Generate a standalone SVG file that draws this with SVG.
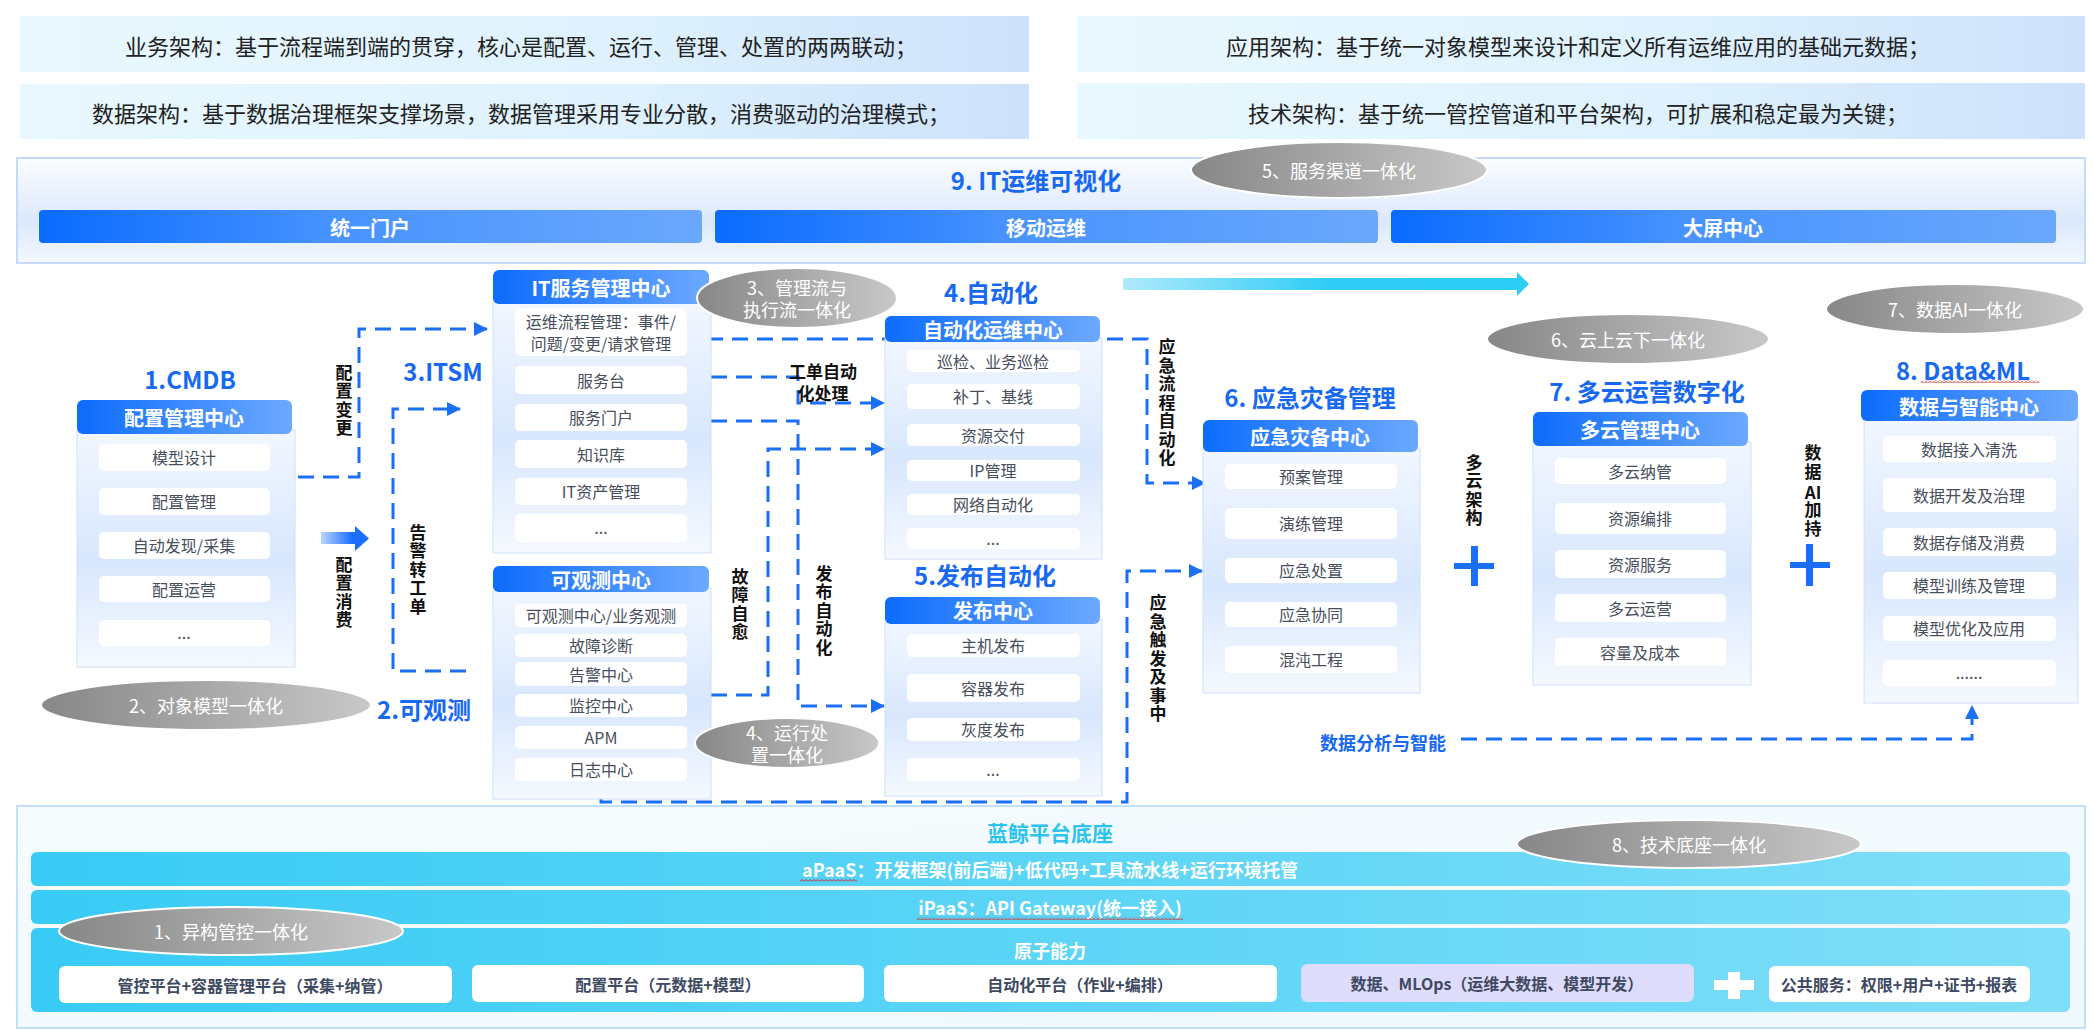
<svg xmlns="http://www.w3.org/2000/svg" width="2094" height="1030" viewBox="0 0 2094 1030">
<defs>
<linearGradient id="gBanner" x1="0" y1="0" x2="1" y2="0"><stop offset="0" stop-color="#e9f8fe"/><stop offset="0.6" stop-color="#def1fd"/><stop offset="1" stop-color="#cde1fb"/></linearGradient>
<linearGradient id="gPanel" x1="0" y1="0" x2="0" y2="1"><stop offset="0" stop-color="#fbfdff"/><stop offset="0.6" stop-color="#dbe8fc"/><stop offset="1" stop-color="#f3f8ff"/></linearGradient>
<linearGradient id="gBar" x1="0" y1="0" x2="1" y2="0"><stop offset="0" stop-color="#0a6bff"/><stop offset="0.45" stop-color="#4893ff"/><stop offset="1" stop-color="#6aa8fc"/></linearGradient>
<linearGradient id="gHdr" x1="0" y1="0" x2="1" y2="0"><stop offset="0" stop-color="#0d6cfd"/><stop offset="1" stop-color="#6ca9ff"/></linearGradient>
<linearGradient id="gBody" x1="0" y1="0" x2="0" y2="1"><stop offset="0" stop-color="#f2f7ff"/><stop offset="0.55" stop-color="#d8e7fd"/><stop offset="1" stop-color="#f5f9ff"/></linearGradient>
<linearGradient id="gEll" x1="0" y1="0" x2="1" y2="0"><stop offset="0" stop-color="#878787"/><stop offset="1" stop-color="#c8c8c8"/></linearGradient>
<linearGradient id="gArrB" x1="0" y1="0" x2="1" y2="0"><stop offset="0" stop-color="#b9d5ff"/><stop offset="0.65" stop-color="#1a6fff"/></linearGradient>
<linearGradient id="gArrC" x1="0" y1="0" x2="1" y2="0"><stop offset="0" stop-color="#aeeafb"/><stop offset="0.5" stop-color="#2fcdf6"/><stop offset="1" stop-color="#2dcdf5"/></linearGradient>
<linearGradient id="gPaaS" x1="0" y1="0" x2="1" y2="0"><stop offset="0" stop-color="#38cbf5"/><stop offset="1" stop-color="#80def8"/></linearGradient>
<linearGradient id="gPlat" x1="0" y1="0" x2="1" y2="1"><stop offset="0" stop-color="#f5fcfe"/><stop offset="1" stop-color="#eef8fd"/></linearGradient>
<pattern id="sq" width="4" height="3" patternUnits="userSpaceOnUse"><path d="M0,2.5 L2,0.5 L4,2.5" stroke="#e21b1b" fill="none" stroke-width="1"/></pattern>
<marker id="ah" viewBox="0 0 14 14" refX="13" refY="7" markerWidth="14" markerHeight="14" markerUnits="userSpaceOnUse" orient="auto"><path d="M0,0 L14,7 L0,14 Z" fill="#1a6ff5"/></marker>
</defs>
<style>
text{font-family:"Noto Sans CJK SC","Liberation Sans",sans-serif}
.bt{font-size:22px;fill:#222;text-anchor:middle;dominant-baseline:central}
.bart{font-size:20px;font-weight:bold;fill:#fff;text-anchor:middle;dominant-baseline:central}
.hdr{fill:url(#gHdr)}
.body{fill:url(#gBody);stroke:#cddff8;stroke-width:1}
.item{fill:#fff}
.it{font-size:16px;fill:#474e5c;text-anchor:middle;dominant-baseline:central}
.ht{font-size:20px;font-weight:bold;fill:#fff;text-anchor:middle;dominant-baseline:central}
.ttl{font-size:24px;font-weight:bold;fill:#1769f2;text-anchor:middle;dominant-baseline:central}
.lbl{font-size:17px;font-weight:bold;fill:#111;text-anchor:middle;dominant-baseline:central}
.vl{font-size:17px;font-weight:bold;fill:#111;text-anchor:middle;dominant-baseline:central;writing-mode:vertical-rl;letter-spacing:1.5px}
.ell{fill:url(#gEll);stroke:#fff;stroke-width:2}
.et{font-size:18px;fill:#fff;text-anchor:middle;dominant-baseline:central}
.conn{stroke:#1a6ff5;stroke-width:3;stroke-dasharray:16 9;fill:none}
.pt{font-size:18px;font-weight:bold;fill:#fff;text-anchor:middle;dominant-baseline:central}
.at{font-size:16px;font-weight:bold;fill:#3e4a62;text-anchor:middle;dominant-baseline:central}
.plusb{fill:#1a6ff5}
</style>
<rect width="2094" height="1030" fill="#fff"/>

<g id="banners">
<rect x="20" y="16" width="1009" height="56" fill="url(#gBanner)"/>
<text class="bt" x="521" y="45">业务架构：基于流程端到端的贯穿，核心是配置、运行、管理、处置的两两联动；</text>
<rect x="20" y="84" width="1009" height="55" fill="url(#gBanner)"/>
<text class="bt" x="521" y="112">数据架构：基于数据治理框架支撑场景，数据管理采用专业分散，消费驱动的治理模式；</text>
<rect x="1077" y="16" width="1008" height="56" fill="url(#gBanner)"/>
<text class="bt" x="1578" y="45">应用架构：基于统一对象模型来设计和定义所有运维应用的基础元数据；</text>
<rect x="1077" y="83" width="1008" height="56" fill="url(#gBanner)"/>
<text class="bt" x="1578" y="112">技术架构：基于统一管控管道和平台架构，可扩展和稳定最为关键；</text>
</g>

<g id="visual-panel">
<rect x="17" y="158" width="2068" height="105" fill="url(#gPanel)" stroke="#c4daf7" stroke-width="2"/>
<text class="ttl" x="1036" y="179">9. IT运维可视化</text>
<rect x="39" y="210" width="663" height="33" rx="4" fill="url(#gBar)"/>
<text class="bart" x="370" y="227">统一门户</text>
<rect x="715" y="210" width="663" height="33" rx="4" fill="url(#gBar)"/>
<text class="bart" x="1046" y="227">移动运维</text>
<rect x="1391" y="210" width="665" height="33" rx="4" fill="url(#gBar)"/>
<text class="bart" x="1723" y="227">大屏中心</text>
</g>

<g id="platform">
<rect x="17" y="806" width="2068" height="222" fill="url(#gPlat)" stroke="#c2e1f7" stroke-width="2"/>
<text x="1050" y="832" font-size="21" font-weight="bold" fill="#2cc3f0" text-anchor="middle" dominant-baseline="central">蓝鲸平台底座</text>
<rect x="31" y="852" width="2039" height="34" rx="6" fill="url(#gPaaS)"/>
<text class="pt" x="1050" y="869">aPaaS：开发框架(前后端)+低代码+工具流水线+运行环境托管</text>
<rect x="800" y="879" width="57" height="3" fill="url(#sq)"/>
<rect x="31" y="890" width="2039" height="34" rx="6" fill="url(#gPaaS)"/>
<text class="pt" x="1050" y="907">iPaaS：API Gateway(统一接入)</text>
<rect x="917" y="917" width="266" height="3" fill="url(#sq)"/>
<rect x="31" y="928" width="2039" height="84" rx="6" fill="url(#gPaaS)"/>
<text class="pt" x="1050" y="950" font-size="20">原子能力</text>
<rect x="59" y="966" width="393" height="37" rx="6" fill="#fff"/>
<text class="at" x="255" y="985">管控平台+容器管理平台（采集+纳管）</text>
<rect x="472" y="965" width="392" height="37" rx="6" fill="#fff"/>
<text class="at" x="668" y="984">配置平台（元数据+模型）</text>
<rect x="884" y="965" width="393" height="37" rx="6" fill="#fff"/>
<text class="at" x="1080" y="984">自动化平台（作业+编排）</text>
<rect x="1301" y="964" width="393" height="38" rx="6" fill="#dedcfb"/>
<text class="at" x="1497" y="983">数据、MLOps（运维大数据、模型开发）</text>
<rect x="1714" y="980" width="40" height="10" fill="#fff"/>
<rect x="1728" y="972" width="12" height="27" fill="#fff"/>
<rect x="1769" y="966" width="261" height="36" rx="6" fill="#fff"/>
<text class="at" x="1899" y="984">公共服务：权限+用户+证书+报表</text>
</g>

<g id="connectors">
<path class="conn" d="M298,477 H359 V329 H487" marker-end="url(#ah)"/>
<path class="conn" d="M466,671 H393 V409 H460" marker-end="url(#ah)"/>
<path class="conn" d="M707,339 H1147 V483 H1205" marker-end="url(#ah)"/>
<path class="conn" d="M711,377 H798 V403 H884" marker-end="url(#ah)"/>
<path class="conn" d="M711,421 H798 V706 H884" marker-end="url(#ah)"/>
<path class="conn" d="M711,695 H768 V449 H884" marker-end="url(#ah)"/>
<path class="conn" d="M601,797 V802 H1127 V571 H1202" marker-end="url(#ah)"/>
<path class="conn" d="M1461,739 H1972 V706" marker-end="url(#ah)"/>
<path d="M321,532 H355 V526 L369,538.5 L355,551 V544 H321 Z" fill="url(#gArrB)"/>
<path d="M1123,278 H1517 V272 L1529,284 L1517,296 V290 H1123 Z" fill="url(#gArrC)"/>
</g>

<g id="conn-labels">
<text class="vl" x="344" y="401">配置变更</text>
<text class="vl" x="344" y="593">配置消费</text>
<text class="vl" x="418" y="570">告警转工单</text>
<text class="lbl" font-size="16" x="823" y="370">工单自动</text>
<text class="lbl" font-size="16" x="823" y="392">化处理</text>
<text class="vl" x="740" y="605">故障自愈</text>
<text class="vl" x="824" y="611">发布自动化</text>
<text class="vl" x="1167" y="403">应急流程自动化</text>
<text class="vl" x="1158" y="659">应急触发及事中</text>
<text class="vl" x="1474" y="491">多云架构</text>
<text class="vl" x="1813" y="463">数据</text>
<text class="lbl" x="1813" y="491">AI</text>
<text class="vl" x="1813" y="520">加持</text>
<text x="1383" y="742" font-size="18" font-weight="bold" fill="#1769f2" text-anchor="middle" dominant-baseline="central">数据分析与智能</text>
<rect class="plusb" x="1454" y="563" width="40" height="6"/><rect class="plusb" x="1471" y="546" width="7" height="40"/>
<rect class="plusb" x="1790" y="562" width="40" height="6"/><rect class="plusb" x="1806" y="544" width="7" height="42"/>
</g>

<g id="cmdb">
<text class="ttl" x="190" y="378">1.CMDB</text>
<rect class="body" x="77" y="430" width="218" height="237"/>
<rect class="hdr" x="77" y="400" width="215" height="34" rx="6"/>
<text class="ht" x="184" y="417">配置管理中心</text>
<rect class="item" x="99" y="444" width="171" height="27" rx="5"/><text class="it" x="184" y="457">模型设计</text>
<rect class="item" x="99" y="488" width="171" height="27" rx="5"/><text class="it" x="184" y="501">配置管理</text>
<rect class="item" x="99" y="532" width="171" height="27" rx="5"/><text class="it" x="184" y="545">自动发现/采集</text>
<rect class="item" x="99" y="576" width="171" height="26" rx="5"/><text class="it" x="184" y="589">配置运营</text>
<rect class="item" x="99" y="620" width="171" height="26" rx="5"/><text class="it" x="184" y="632">...</text>
</g>

<g id="itsm">
<text class="ttl" x="443" y="370">3.ITSM</text>
<rect class="body" x="493" y="300" width="218" height="253"/>
<rect class="hdr" x="493" y="270" width="216" height="34" rx="6"/>
<text class="ht" x="601" y="287">IT服务管理中心</text>
<rect class="item" x="515" y="308" width="172" height="48" rx="6"/>
<text class="it" x="601" y="321">运维流程管理：事件/</text>
<text class="it" x="601" y="343">问题/变更/请求管理</text>
<rect class="item" x="515" y="366" width="172" height="28" rx="5"/><text class="it" x="601" y="380">服务台</text>
<rect class="item" x="515" y="404" width="172" height="27" rx="5"/><text class="it" x="601" y="417">服务门户</text>
<rect class="item" x="515" y="440" width="172" height="28" rx="5"/><text class="it" x="601" y="454">知识库</text>
<rect class="item" x="515" y="478" width="172" height="27" rx="5"/><text class="it" x="601" y="491">IT资产管理</text>
<rect class="item" x="515" y="514" width="172" height="28" rx="5"/><text class="it" x="601" y="527">...</text>
</g>

<g id="observe">
<text class="ttl" x="424" y="708">2.可观测</text>
<rect class="body" x="493" y="588" width="218" height="211"/>
<rect class="hdr" x="493" y="566" width="216" height="26" rx="6"/>
<text class="ht" x="601" y="579">可观测中心</text>
<rect class="item" x="515" y="604" width="172" height="23" rx="5"/><text class="it" x="601" y="615">可观测中心/业务观测</text>
<rect class="item" x="515" y="634" width="172" height="23" rx="5"/><text class="it" x="601" y="645">故障诊断</text>
<rect class="item" x="515" y="662" width="172" height="24" rx="5"/><text class="it" x="601" y="674">告警中心</text>
<rect class="item" x="515" y="694" width="172" height="23" rx="5"/><text class="it" x="601" y="705">监控中心</text>
<rect class="item" x="515" y="726" width="172" height="23" rx="5"/><text class="it" x="601" y="737">APM</text>
<rect class="item" x="515" y="758" width="172" height="23" rx="5"/><text class="it" x="601" y="769">日志中心</text>
</g>

<g id="auto">
<text class="ttl" x="991" y="291">4.自动化</text>
<rect class="body" x="885" y="338" width="217" height="221"/>
<rect class="hdr" x="885" y="316" width="215" height="26" rx="6"/>
<text class="ht" x="993" y="329">自动化运维中心</text>
<rect class="item" x="907" y="350" width="173" height="22" rx="5"/><text class="it" x="993" y="361">巡检、业务巡检</text>
<rect class="item" x="907" y="384" width="173" height="25" rx="5"/><text class="it" x="993" y="396">补丁、基线</text>
<rect class="item" x="907" y="424" width="173" height="22" rx="5"/><text class="it" x="993" y="435">资源交付</text>
<rect class="item" x="907" y="460" width="173" height="21" rx="5"/><text class="it" x="993" y="470">IP管理</text>
<rect class="item" x="907" y="494" width="173" height="21" rx="5"/><text class="it" x="993" y="504">网络自动化</text>
<rect class="item" x="907" y="528" width="173" height="21" rx="5"/><text class="it" x="993" y="538">...</text>
</g>

<g id="release">
<text class="ttl" x="985" y="574">5.发布自动化</text>
<rect class="body" x="885" y="620" width="217" height="176"/>
<rect class="hdr" x="885" y="597" width="215" height="27" rx="6"/>
<text class="ht" x="993" y="610">发布中心</text>
<rect class="item" x="907" y="634" width="173" height="23" rx="5"/><text class="it" x="993" y="645">主机发布</text>
<rect class="item" x="907" y="674" width="173" height="28" rx="5"/><text class="it" x="993" y="688">容器发布</text>
<rect class="item" x="907" y="718" width="173" height="23" rx="5"/><text class="it" x="993" y="729">灰度发布</text>
<rect class="item" x="907" y="758" width="173" height="23" rx="5"/><text class="it" x="993" y="769">...</text>
</g>

<g id="emergency">
<text class="ttl" x="1310" y="396">6. 应急灾备管理</text>
<rect class="body" x="1203" y="448" width="217" height="245"/>
<rect class="hdr" x="1203" y="420" width="215" height="32" rx="6"/>
<text class="ht" x="1310" y="436">应急灾备中心</text>
<rect class="item" x="1225" y="464" width="172" height="25" rx="5"/><text class="it" x="1311" y="476">预案管理</text>
<rect class="item" x="1225" y="508" width="172" height="31" rx="5"/><text class="it" x="1311" y="523">演练管理</text>
<rect class="item" x="1225" y="558" width="172" height="25" rx="5"/><text class="it" x="1311" y="570">应急处置</text>
<rect class="item" x="1225" y="602" width="172" height="25" rx="5"/><text class="it" x="1311" y="614">应急协同</text>
<rect class="item" x="1225" y="646" width="172" height="27" rx="5"/><text class="it" x="1311" y="659">混沌工程</text>
</g>

<g id="multicloud">
<text class="ttl" x="1647" y="390">7. 多云运营数字化</text>
<rect class="body" x="1533" y="442" width="218" height="243"/>
<rect class="hdr" x="1533" y="412" width="215" height="34" rx="6"/>
<text class="ht" x="1640" y="429">多云管理中心</text>
<rect class="item" x="1555" y="458" width="171" height="26" rx="5"/><text class="it" x="1640" y="471">多云纳管</text>
<rect class="item" x="1555" y="503" width="171" height="31" rx="5"/><text class="it" x="1640" y="518">资源编排</text>
<rect class="item" x="1555" y="550" width="171" height="28" rx="5"/><text class="it" x="1640" y="564">资源服务</text>
<rect class="item" x="1555" y="594" width="171" height="28" rx="5"/><text class="it" x="1640" y="608">多云运营</text>
<rect class="item" x="1555" y="638" width="171" height="28" rx="5"/><text class="it" x="1640" y="652">容量及成本</text>
</g>

<g id="dataml">
<text class="ttl" x="1963" y="369" font-size="25">8. Data&amp;ML</text>
<rect x="1921" y="380" width="118" height="3" fill="url(#sq)"/>
<rect class="body" x="1864" y="417" width="214" height="286"/>
<rect class="hdr" x="1861" y="390" width="217" height="31" rx="6"/>
<text class="ht" x="1969" y="406">数据与智能中心</text>
<rect class="item" x="1883" y="436" width="173" height="26" rx="5"/><text class="it" x="1969" y="449">数据接入清洗</text>
<rect class="item" x="1883" y="478" width="173" height="34" rx="5"/><text class="it" x="1969" y="495">数据开发及治理</text>
<rect class="item" x="1883" y="528" width="173" height="28" rx="5"/><text class="it" x="1969" y="542">数据存储及消费</text>
<rect class="item" x="1883" y="572" width="173" height="27" rx="5"/><text class="it" x="1969" y="585">模型训练及管理</text>
<rect class="item" x="1883" y="616" width="173" height="25" rx="5"/><text class="it" x="1969" y="628">模型优化及应用</text>
<rect class="item" x="1883" y="660" width="173" height="26" rx="5"/><text class="it" x="1969" y="672">......</text>
</g>

<g id="ellipses">
<g id="e5"><ellipse class="ell" cx="1339" cy="170" rx="148" ry="28"/><text class="et" x="1339" y="170">5、服务渠道一体化</text></g>
<g id="e2"><ellipse class="ell" cx="206" cy="705" rx="165" ry="25"/><text class="et" x="206" y="705">2、对象模型一体化</text></g>
<g id="e3"><ellipse class="ell" cx="797" cy="298" rx="100" ry="30"/><text class="et" x="797" y="287">3、管理流与</text><text class="et" x="797" y="309">执行流一体化</text></g>
<g id="e4"><ellipse class="ell" cx="787" cy="743" rx="92" ry="25"/><text class="et" x="787" y="732">4、运行处</text><text class="et" x="787" y="754">置一体化</text></g>
<g id="e6"><ellipse class="ell" cx="1628" cy="339" rx="141" ry="25"/><text class="et" x="1628" y="339">6、云上云下一体化</text></g>
<g id="e7"><ellipse class="ell" cx="1955" cy="309" rx="129" ry="25"/><text class="et" x="1955" y="309">7、数据AI一体化</text></g>
<g id="e1"><ellipse class="ell" cx="231" cy="931" rx="172" ry="24"/><text class="et" x="231" y="931">1、异构管控一体化</text></g>
<g id="e8"><ellipse class="ell" cx="1689" cy="844" rx="172" ry="24"/><text class="et" x="1689" y="844">8、技术底座一体化</text></g>
</g>
</svg>
